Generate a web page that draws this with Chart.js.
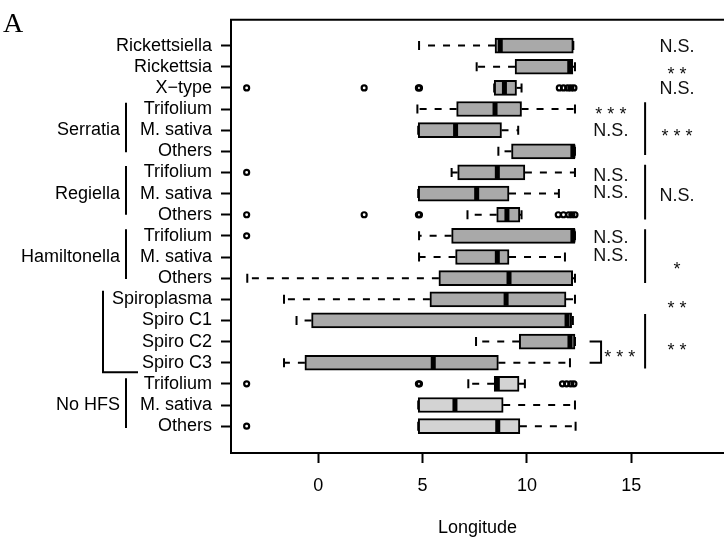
<!DOCTYPE html>
<html>
<head>
<meta charset="utf-8">
<script src="https://cdn.jsdelivr.net/npm/chart.js@4.4.0/dist/chart.umd.min.js"></script>
<style>
  html, body { margin: 0; padding: 0; background: #fff; }
  #chart { display: block; }
</style>
</head>
<body>
<canvas id="chart" width="724" height="544"></canvas>
<script>
// rows, top to bottom
const labels = ['Rickettsiella', 'Rickettsia', 'X\u2212type',
  'Trifolium', 'M. sativa', 'Others',
  'Trifolium', 'M. sativa', 'Others',
  'Trifolium', 'M. sativa', 'Others',
  'Spiroplasma', 'Spiro C1', 'Spiro C2', 'Spiro C3',
  'Trifolium', 'M. sativa', 'Others'];

const whiskerLow  = [4.83, 7.59, 8.43, 4.75, 4.79, 8.63, 6.39, 4.79, 7.15, 4.83, 4.83, -3.4, -1.64, -1.04, 7.56, -1.64, 7.19, 4.79, 4.79];
const q1          = [8.47, 9.43, 8.43, 6.63, 4.79, 9.26, 6.68, 4.79, 8.55, 6.39, 6.58, 5.78, 5.35, -0.32, 9.63, -0.64, 8.43, 4.79, 4.79];
const median      = [8.72, 12.05, 8.92, 8.47, 6.58, 12.2, 8.58, 7.59, 9.04, 12.2, 8.58, 9.14, 9.0, 11.92, 12.06, 5.51, 8.58, 6.55, 8.6];
const q3          = [12.22, 12.2, 9.5, 9.74, 8.78, 12.3, 9.9, 9.14, 9.66, 12.3, 9.14, 12.19, 11.87, 12.14, 12.3, 8.63, 9.62, 8.86, 9.66];
const whiskerHigh = [12.22, 12.3, 9.74, 12.3, 9.58, 12.3, 12.3, 11.53, 9.74, 12.3, 11.82, 12.3, 12.3, 12.2, 12.3, 12.06, 9.9, 12.3, 12.33];

const outliers = [
  [], [], [-3.43, 2.2, 4.8, 4.85, 11.55, 11.75, 11.95, 12.1, 12.25],
  [], [], [],
  [-3.43], [], [-3.43, 2.2, 4.8, 4.85, 11.5, 11.75, 12.0, 12.15, 12.3],
  [-3.43], [], [],
  [], [], [], [],
  [-3.43, 4.8, 4.85, 11.7, 11.9, 12.1, 12.25], [], [-3.43]
];

const xTicks = [0, 5, 10, 15];

// group labels on the left: [text, centre row, line from row, line to row]
const groups = [
  ['Serratia', 4, 2.7, 5.05],
  ['Regiella', 7, 5.69, 8.0],
  ['Hamiltonella', 10, 8.69, 11.04],
  ['No HFS', 17, 15.74, 18.09]
];

// significance text: [text, row position]
const notesMid = [['* * *', 3.05], ['N.S.', 3.95], ['N.S.', 6.11], ['N.S.', 6.91], ['N.S.', 9.02], ['N.S.', 9.87]];
const notesRight = [['N.S.', 0], ['* *', 1.13], ['N.S.', 1.97], ['* * *', 4.09], ['N.S.', 7.05], ['*', 10.34], ['* *', 12.22], ['* *', 14.19]];
const notesLines = [[2.68, 5.17], [5.64, 8.22], [8.69, 11.23], [12.69, 15.27]];

const FONT = 'Liberation Sans, Arial, sans-serif';
const darkFill = '#a9a9a9';
const lightFill = '#d3d3d3';
const firstNoHfs = 16;

const boxData = labels.map((l, i) => ({ x: [q1[i], q3[i]], y: i }));
const outlierData = [];
outliers.forEach((vals, i) => vals.forEach(v => outlierData.push({ x: v, y: i })));

function noteY(y, row, text) {
  // asterisks sit high in the font, so push the baseline further down
  return y.getPixelForValue(row) + (text[0] === '*' ? 10.3 : 6.5);
}

const boxParts = {
  id: 'boxParts',
  beforeDatasetsDraw(chart) {
    const { ctx, scales: { x, y } } = chart;
    ctx.save();
    ctx.strokeStyle = '#000';
    ctx.lineWidth = 2;
    ctx.setLineDash([7, 8]);
    labels.forEach((l, i) => {
      const py = y.getPixelForValue(i);
      ctx.beginPath();
      ctx.moveTo(x.getPixelForValue(q1[i]), py);
      ctx.lineTo(x.getPixelForValue(whiskerLow[i]), py);
      ctx.moveTo(x.getPixelForValue(q3[i]), py);
      ctx.lineTo(x.getPixelForValue(whiskerHigh[i]), py);
      ctx.stroke();
    });
    ctx.restore();
  },
  afterDatasetsDraw(chart) {
    const { ctx, scales: { x, y }, chartArea } = chart;
    ctx.save();
    ctx.strokeStyle = '#000';
    ctx.fillStyle = '#000';

    // whisker caps and medians
    labels.forEach((l, i) => {
      const py = y.getPixelForValue(i);
      ctx.lineWidth = 2;
      ctx.beginPath();
      [whiskerLow[i], whiskerHigh[i]].forEach(v => {
        const px = x.getPixelForValue(v);
        ctx.moveTo(px, py - 4.5);
        ctx.lineTo(px, py + 4.5);
      });
      ctx.stroke();
      ctx.lineWidth = 5;
      ctx.beginPath();
      const pm = x.getPixelForValue(median[i]);
      ctx.moveTo(pm, py - 6.5);
      ctx.lineTo(pm, py + 6.5);
      ctx.stroke();
    });

    // top frame line
    ctx.lineWidth = 2;
    ctx.beginPath();
    ctx.moveTo(chartArea.left - 1, chartArea.top);
    ctx.lineTo(chartArea.right, chartArea.top);
    ctx.stroke();

    // significance marks
    ctx.font = '18px ' + FONT;
    ctx.textAlign = 'center';
    ctx.textBaseline = 'alphabetic';
    ctx.fillStyle = '#111';
    notesMid.forEach(([t, r]) => ctx.fillText(t, x.getPixelForValue(14.02), noteY(y, r, t)));
    notesRight.forEach(([t, r]) => ctx.fillText(t, x.getPixelForValue(17.19), noteY(y, r, t)));
    ctx.fillText('* * *', x.getPixelForValue(14.45), noteY(y, 14.52, '*'));

    ctx.lineWidth = 2;
    ctx.beginPath();
    notesLines.forEach(([a, b]) => {
      const px = x.getPixelForValue(15.66);
      ctx.moveTo(px, y.getPixelForValue(a));
      ctx.lineTo(px, y.getPixelForValue(b));
    });
    // bracket Spiro C2 / C3
    const bx0 = x.getPixelForValue(13.0), bx1 = x.getPixelForValue(13.55);
    ctx.moveTo(bx0, y.getPixelForValue(14));
    ctx.lineTo(bx1, y.getPixelForValue(14));
    ctx.lineTo(bx1, y.getPixelForValue(15));
    ctx.lineTo(bx0, y.getPixelForValue(15));
    ctx.stroke();

    // group labels left of the axis
    const left = chartArea.left;
    ctx.fillStyle = '#000';
    ctx.textAlign = 'right';
    ctx.textBaseline = 'middle';
    ctx.beginPath();
    groups.forEach(([t, c, a, b]) => {
      ctx.fillText(t, left - 111, y.getPixelForValue(c));
      ctx.moveTo(left - 105, y.getPixelForValue(a));
      ctx.lineTo(left - 105, y.getPixelForValue(b));
    });
    // Spiroplasma bracket
    ctx.moveTo(left - 128, y.getPixelForValue(11.6));
    ctx.lineTo(left - 128, y.getPixelForValue(15.45));
    ctx.lineTo(left - 93, y.getPixelForValue(15.45));
    ctx.stroke();

    // panel letter
    ctx.font = '28px Liberation Serif, Times New Roman, serif';
    ctx.textAlign = 'left';
    ctx.textBaseline = 'alphabetic';
    ctx.fillText('A', 3, 32);
    ctx.restore();
  }
};

Chart.defaults.font.family = FONT;
Chart.defaults.font.size = 18;
Chart.defaults.color = '#000';

new Chart(document.getElementById('chart'), {
  type: 'bar',
  data: {
    datasets: [{
      type: 'bar',
      data: boxData,
      backgroundColor: c => c.dataIndex >= firstNoHfs ? lightFill : darkFill,
      borderColor: '#000',
      borderWidth: 2,
      borderSkipped: false,
      barThickness: 15
    }, {
      type: 'scatter',
      data: outlierData,
      pointRadius: 2.5,
      pointBorderWidth: 2.2,
      borderColor: '#000',
      backgroundColor: 'rgba(0,0,0,0)'
    }]
  },
  options: {
    indexAxis: 'y',
    responsive: false,
    animation: false,
    devicePixelRatio: 1,
    layout: { autoPadding: false, padding: { top: 17, right: 0, bottom: 0, left: 0 } },
    plugins: { legend: { display: false }, tooltip: { enabled: false } },
    scales: {
      x: {
        type: 'linear',
        min: -4.18,
        max: 19.44,
        offset: false,
        afterBuildTicks: s => { s.ticks = xTicks.map(v => ({ value: v })); },
        afterFit: s => { s.height = 91; },
        grid: { offset: false, drawOnChartArea: false, drawTicks: true, tickLength: 10, tickWidth: 2, tickColor: '#000' },
        border: { display: true, color: '#000', width: 2 },
        ticks: { padding: 12, maxRotation: 0, autoSkip: false, color: '#000' },
        title: { display: true, text: 'Longitude', color: '#000', padding: { top: 0, bottom: 5 } }
      },
      y: {
        type: 'linear',
        reverse: true,
        min: -1.22,
        max: 19.27,
        offset: false,
        afterBuildTicks: s => { s.ticks = labels.map((l, i) => ({ value: i })); },
        afterFit: s => { s.width = 231; },
        grid: { offset: false, drawOnChartArea: false, drawTicks: true, tickLength: 10, tickWidth: 2, tickColor: '#000' },
        border: { display: true, color: '#000', width: 2 },
        ticks: { padding: 9, autoSkip: false, color: '#000', callback: v => labels[v] }
      }
    }
  },
  plugins: [boxParts]
});
</script>
</body>
</html>
